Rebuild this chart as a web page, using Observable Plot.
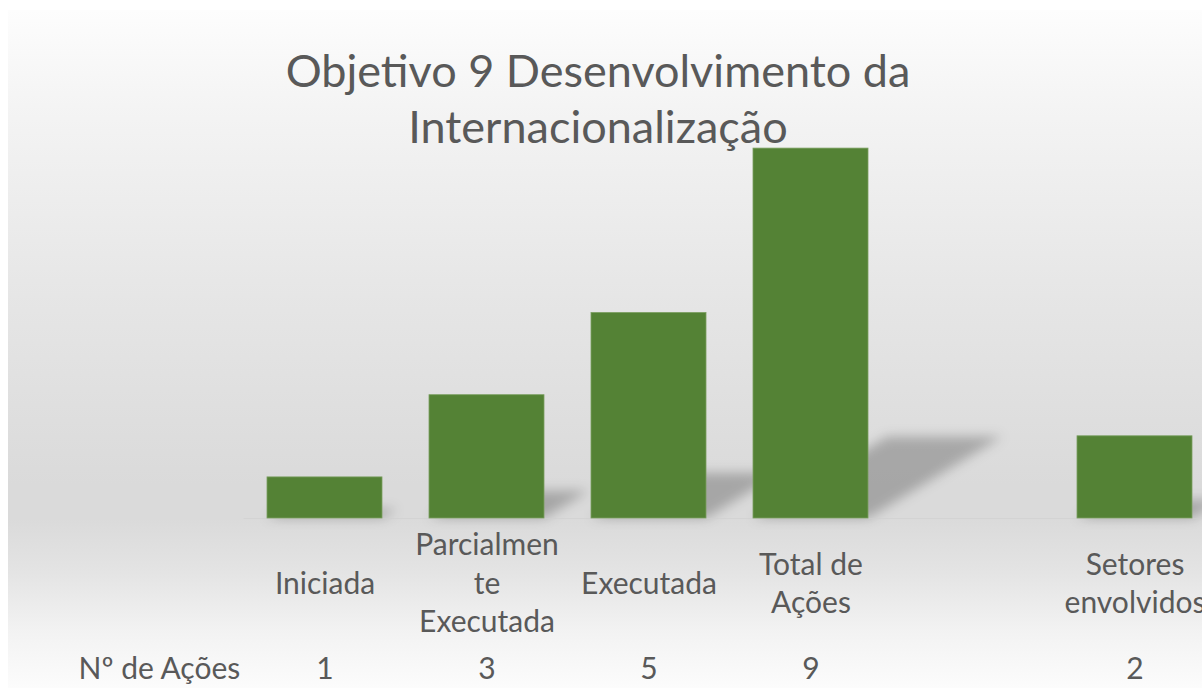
<!DOCTYPE html>
<html>
<head>
<meta charset="utf-8">
<script src="https://cdn.jsdelivr.net/npm/d3@7"></script>
<script src="https://cdn.jsdelivr.net/npm/@observablehq/plot@0.6"></script>
<style>
  html, body { margin: 0; padding: 0; width: 1202px; height: 688px; overflow: hidden; background: #ffffff; }
  #bg { position: absolute; left: 8px; top: 10px; right: 0; bottom: 0;
        background: linear-gradient(to bottom, #fdfdfd 0%, #f4f4f4 14%, #e6e6e6 42%, #dadada 70%, #dadada 75%, #e4e4e4 83%, #f3f3f3 92%, #fcfcfc 100%); }
  #chart { position: absolute; left: 0; top: 0; }
  #title { position: absolute; left: 0; width: 1196px; top: 42px; text-align: center;
           font-family: Lato, sans-serif; font-size: 45px; line-height: 56px; color: #595959; }
</style>
</head>
<body>
<div id="bg"></div>
<div id="chart"></div>
<div id="title">Objetivo 9 Desenvolvimento da<br>Internacionalização</div>
<script>
// ---- data ----
const categories = ["Iniciada", "Parcialmente Executada", "Executada", "Total de Ações", "(vazio)", "Setores envolvidos"];
const categoryLabels = ["Iniciada", "Parcialmen\nte\nExecutada", "Executada", "Total de\nAções", "", "Setores\nenvolvidos"];
const values = [1, 3, 5, 9, null, 2];
const rowLabel = "Nº de Ações";

const data = categories.map((c, i) => ({category: c, label: categoryLabels[i], value: values[i]}));
const barsData = data.filter(d => d.value != null);

const grey = "#595959";
const green = "#548235";

const plot = Plot.plot({
  width: 1202,
  height: 688,
  marginTop: 107,
  marginBottom: 170,
  marginLeft: 243.5,
  marginRight: 0,
  style: {background: "transparent", fontFamily: "Lato, sans-serif", overflow: "visible"},
  x: {domain: categories, range: [243.5, 1216], paddingInner: 0.29, paddingOuter: 0.145, axis: null},
  y: {domain: [0, 10], axis: null},
  marks: [
    // shadow (transformed after render)
    Plot.barY(barsData, {x: "category", y: "value", fill: "#000", fillOpacity: 0.24}),
    Plot.ruleY([0], {stroke: "#cfcfcf", strokeOpacity: 0.6}),
    Plot.barY(barsData, {x: "category", y: "value", fill: green, stroke: "#7a9f60", strokeWidth: 0.8}),
    Plot.text(data, {x: "category", text: "label", frameAnchor: "bottom", dy: 63, lineAnchor: "middle",
                     fontSize: 30, lineHeight: 1.28, fill: grey}),
    Plot.text(data, {x: "category", text: d => d.value == null ? "" : String(d.value), frameAnchor: "bottom",
                     dy: 151, lineAnchor: "middle", fontSize: 30, fill: grey}),
    Plot.text([rowLabel], {frameAnchor: "bottom-left", textAnchor: "start", dx: -165.5, dy: 151,
                     lineAnchor: "middle", fontSize: 30, fill: grey})
  ]
});

document.getElementById("chart").appendChild(plot);

// perspective shadow: squash and skew the first bar group about the baseline, then blur
const ns = "http://www.w3.org/2000/svg";
const y0 = plot.scale("y").apply(0);
const s = 0.22, k = 1.65;
const defs = document.createElementNS(ns, "defs");
defs.innerHTML = '<filter id="shblur" x="-50%" y="-50%" width="200%" height="200%"><feGaussianBlur stdDeviation="6"/></filter>';
plot.insertBefore(defs, plot.firstChild);
const shadowGroup = plot.querySelector('g[aria-label="bar"]');
const wrap = document.createElementNS(ns, "g");
wrap.setAttribute("filter", "url(#shblur)");
const mid = document.createElementNS(ns, "g");
mid.setAttribute("transform", `matrix(1,0,${-k * s},${s},${k * s * y0},${y0 * (1 - s)})`);
shadowGroup.parentNode.insertBefore(wrap, shadowGroup);
wrap.appendChild(mid);
mid.appendChild(shadowGroup);
</script>
</body>
</html>
